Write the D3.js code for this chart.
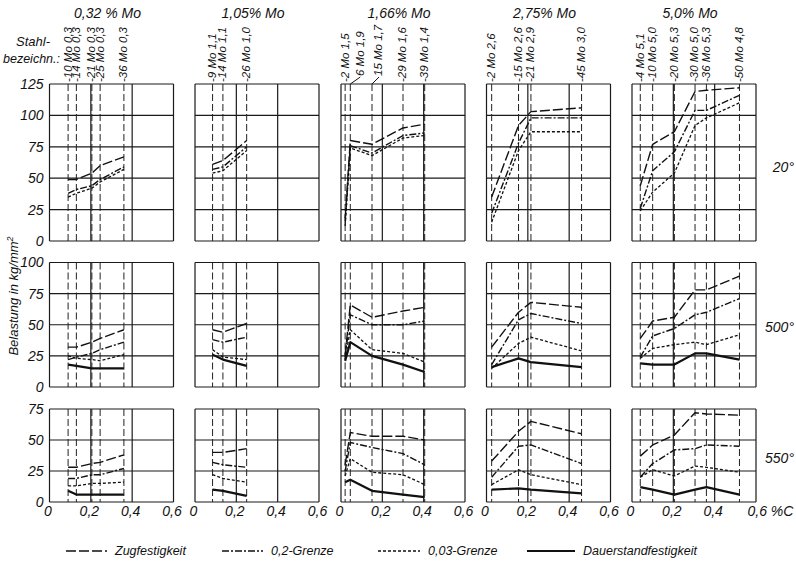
<!DOCTYPE html>
<html>
<head>
<meta charset="utf-8">
<script src="https://cdn.jsdelivr.net/npm/d3@7"></script>
<style>
body { margin: 0; background: #fff; }
text { font-family: "Liberation Sans", Arial, sans-serif; font-style: italic; fill: #111; }
</style>
</head>
<body>
<svg id="chart" width="796" height="561"></svg>
<script>
// Mo groups (columns) and temperatures (rows)
var moGroups = ["0,32 % Mo", "1,05% Mo", "1,66% Mo", "2,75% Mo", "5,0% Mo"];
var tempLabels = ["20\u00b0", "500\u00b0", "550\u00b0"];
var yMax = [125, 100, 75];
var xTicks = [0, 0.2, 0.4, 0.6];

var steelNames = [
	["10 Mo 0,3", "14 Mo 0,3", "21 Mo 0,3", "25 Mo 0,3", "36 Mo 0,3"],
	["9 Mo 1,1", "14 Mo 1,1", "26 Mo 1,0"],
	["2 Mo 1,5", "6 Mo 1,9", "15 Mo 1,7", "29 Mo 1,6", "39 Mo 1,4"],
	["2 Mo 2,6", "15 Mo 2,6", "21 Mo 2,9", "45 Mo 3,0"],
	["4 Mo 5,1", "10 Mo 5,0", "20 Mo 5,3", "30 Mo 5,0", "36 Mo 5,3", "50 Mo 4,8"]
];
// carbon content (% C) of each steel
var steelC = [
	[0.09, 0.13, 0.205, 0.245, 0.36],
	[0.085, 0.135, 0.25],
	[0.02, 0.045, 0.15, 0.30, 0.405],
	[0.025, 0.155, 0.215, 0.46],
	[0.04, 0.10, 0.205, 0.305, 0.36, 0.52]
];

// values in kg/mm2, one list per Mo group
var zug_20  = [[49, 49, 54, 60, 67], [61, 64, 80], [18, 80, 77, 90, 93], [35, 92, 103, 106], [44, 77, 87, 119, 120, 122]];
var g02_20  = [[38, 41, 44, 49, 59], [57, 59, 75], [14, 76, 70, 84, 86], [22, 78, 98, 98], [26, 56, 71, 104, 104, 116]];
var g003_20 = [[35, 38, 42, 47, 57], [54, 56, 72], [12, 74, 68, 82, 84], [15, 72, 87, 87], [24, 39, 54, 92, 98, 110]];

var zug_500   = [[32, 32, 36, 39, 46], [46, 44, 51], [26, 66, 56, 61, 64], [32, 60, 68, 64], [39, 53, 56, 78, 78, 89]];
var g02_500   = [[22, 24, 27, 30, 36], [38, 36, 40], [24, 58, 50, 50, 53], [18, 54, 59, 51], [24, 41, 47, 58, 60, 71]];
var g003_500  = [[25, 23, 22, 21, 26], [30, 24, 22], [22, 46, 30, 27, 20], [15, 35, 40, 29], [23, 31, 34, 36, 34, 42]];
var dauer_500 = [[18, 17, 15, 15, 15], [26, 22, 17], [21, 36, 25, 18, 12], [16, 23, 20, 16], [19, 18, 18, 27, 27, 22]];

var zug_550   = [[28, 28, 31, 32, 38], [40, 40, 43], [30, 56, 53, 53, 50], [33, 57, 65, 55], [37, 46, 54, 72, 71, 70]];
var g02_550   = [[19, 19, 22, 22, 27], [32, 30, 28], [25, 48, 44, 39, 30], [20, 45, 46, 31], [20, 31, 42, 43, 46, 45]];
var g003_550  = [[13, 13, 15, 15, 16], [22, 19, 16], [21, 35, 24, 22, 14], [14, 26, 22, 14], [20, 26, 21, 29, 28, 24]];
var dauer_550 = [[9, 6, 6, 6, 6], [10, 9, 5], [16, 18, 9, 6, 4], [10, 11, 10, 7], [12, 10, 6, 10, 12, 6]];

var legendNames = ["Zugfestigkeit", "0,2-Grenze", "0,03-Grenze", "Dauerstandfestigkeit"];

// layout
var colX = [49.5, 195, 341, 486.5, 632];
var panelW = 124;
var rowTop = [84, 262.5, 409];
var rowBottom = [241, 387, 502];
// label nudges (px) where steel names would collide
var labelShift = [[0, 0, 0, 0, 0], [0, 0, 0], [0, 10, 7, 0, 0], [0, 0, 0, 0], [0, 0, 0, 0, 0, 0]];

var dashes = ["10,3", "7,2,2,2", "3,2", null];
var widths = [1.4, 1.4, 1.3, 2.2];

var rows = [
	[zug_20, g02_20, g003_20, null],
	[zug_500, g02_500, g003_500, dauer_500],
	[zug_550, g02_550, g003_550, dauer_550]
];

var svg = d3.select("#chart");
var fmt = d3.formatLocale({decimal: ",", thousands: ".", grouping: [3], currency: ["", ""]}).format(".1~f");

for (var r = 0; r < 3; r++) {
	var y = d3.scaleLinear().domain([0, yMax[r]]).range([rowBottom[r], rowTop[r]]);
	for (var c = 0; c < 5; c++) {
		var x = d3.scaleLinear().domain([0, 0.6]).range([colX[c], colX[c] + panelW]);
		var g = svg.append("g");

		// grid
		g.selectAll(".hg").data(d3.range(0, yMax[r] + 1, 25)).enter().append("line")
			.attr("x1", x(0)).attr("x2", x(0.6))
			.attr("y1", function(d) { return y(d); }).attr("y2", function(d) { return y(d); })
			.attr("stroke", "#1a1a1a").attr("stroke-width", 1.2);
		g.selectAll(".vg").data(xTicks).enter().append("line")
			.attr("x1", function(d) { return x(d); }).attr("x2", function(d) { return x(d); })
			.attr("y1", y(0)).attr("y2", y(yMax[r]))
			.attr("stroke", "#1a1a1a").attr("stroke-width", 1.2);

		// steel positions
		g.selectAll(".st").data(steelC[c]).enter().append("line")
			.attr("x1", function(d) { return x(d); }).attr("x2", function(d) { return x(d); })
			.attr("y1", y(yMax[r])).attr("y2", y(0))
			.attr("stroke", "#222").attr("stroke-width", 1)
			.attr("stroke-dasharray", "7,3");

		// curves
		for (var s = 0; s < 4; s++) {
			var vals = rows[r][s];
			if (!vals) continue;
			var pts = vals[c].map(function(v, i) { return [steelC[c][i], v]; });
			var line = d3.line().x(function(d) { return x(d[0]); }).y(function(d) { return y(d[1]); });
			g.append("path")
				.attr("d", line(pts))
				.attr("fill", "none")
				.attr("stroke", "#111")
				.attr("stroke-width", widths[s])
				.attr("stroke-linejoin", "round")
				.attr("stroke-dasharray", dashes[s]);
		}

		// y tick labels only on the first column
		if (c == 0) {
			var ay = svg.append("g")
				.attr("transform", "translate(" + colX[0] + ",0)")
				.call(d3.axisLeft(y).tickValues(d3.range(0, yMax[r] + 1, 25)).tickSize(0).tickPadding(6));
			ay.select(".domain").remove();
			ay.selectAll("text").style("font-size", "14px").style("font-family", null).attr("fill", null);
		}

		// x tick labels on the bottom row
		if (r == 2) {
			var ax = svg.append("g")
				.attr("transform", "translate(0," + rowBottom[2] + ")")
				.call(d3.axisBottom(x).tickValues(xTicks).tickFormat(fmt).tickSize(0).tickPadding(4));
			ax.select(".domain").remove();
			ax.selectAll("text").style("font-size", "14px").style("font-family", null).attr("fill", null).attr("dx", "-2");
			if (c == 4) {
				ax.selectAll("text").filter(function(d) { return d == 0.6; })
					.text("0,6 %C").attr("text-anchor", "start").attr("dx", "-9");
			}
		}
	}
}

// steel labels above the top row
for (var c = 0; c < 5; c++) {
	var x = d3.scaleLinear().domain([0, 0.6]).range([colX[c], colX[c] + panelW]);
	var sh = labelShift[c];
	var lg = svg.append("g");
	lg.selectAll("text").data(steelC[c]).enter().append("text")
		.attr("transform", function(d, i) { return "translate(" + (x(d) + sh[i]) + "," + (sh[i] ? 76 : 82) + ") rotate(-90)"; })
		.attr("dy", "0.3em")
		.style("font-size", "11.5px")
		.text(function(d, i) { return (sh[i] ? "" : "-") + steelNames[c][i]; });
	// slanted leaders for nudged labels
	lg.selectAll("line").data(steelC[c].filter(function(d, i) { return sh[i]; })).enter().append("line")
		.attr("x1", function(d) { return x(d); }).attr("y1", 84)
		.attr("x2", function(d) { return x(d) + sh[steelC[c].indexOf(d)]; }).attr("y2", 77)
		.attr("stroke", "#111").attr("stroke-width", 1);

	svg.append("text")
		.attr("x", colX[c] + panelW / 2 - 4).attr("y", 18)
		.attr("text-anchor", "middle")
		.style("font-size", "14px")
		.text(moGroups[c]);
}

svg.append("text").attr("x", 50).attr("y", 46).attr("text-anchor", "end").style("font-size", "13px").text("Stahl-");
svg.append("text").attr("x", 3).attr("y", 63).style("font-size", "12.5px").text("bezeichn.:");

// temperatures on the right
var tempY = [172, 332, 463];
svg.selectAll(".temp").data(tempLabels).enter().append("text")
	.attr("x", 794).attr("y", function(d, i) { return tempY[i]; })
	.attr("text-anchor", "end")
	.style("font-size", "14px")
	.text(function(d) { return d; });

// y axis title
var yt = svg.append("text")
	.attr("transform", "translate(18,296) rotate(-90)")
	.attr("text-anchor", "middle")
	.style("font-size", "13px");
yt.append("tspan").text("Belastung  in  kg/mm");
yt.append("tspan").attr("dy", "-5").style("font-size", "9px").text("2");

// legend
var legX = [66, 222, 378, 527];
var legLen = [41, 41, 42, 48];
for (var i = 0; i < 4; i++) {
	svg.append("line")
		.attr("x1", legX[i]).attr("x2", legX[i] + legLen[i])
		.attr("y1", 551).attr("y2", 551)
		.attr("stroke", "#111").attr("stroke-width", widths[i])
		.attr("stroke-dasharray", dashes[i]);
	svg.append("text")
		.attr("x", legX[i] + legLen[i] + 8).attr("y", 555)
		.style("font-size", "12.5px")
		.text(legendNames[i]);
}
</script>
</body>
</html>
